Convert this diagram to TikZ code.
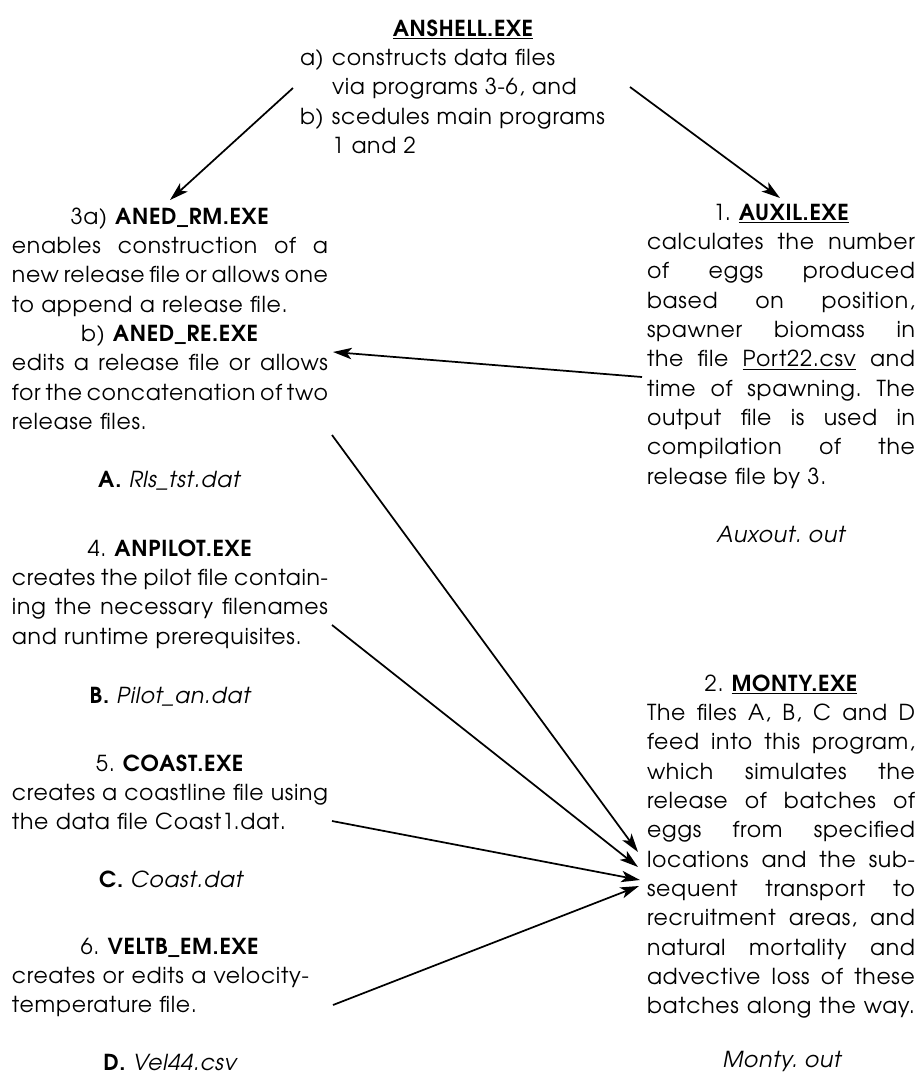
\documentclass[tikz,border=0pt]{standalone}
\usepackage{fontspec}
\setmainfont[LetterSpace=3]{TeX Gyre Adventor}
\usetikzlibrary{arrows.meta}
\frenchspacing
\newlength{\pxu}\setlength{\pxu}{0.75pt}
\newcommand{\fsz}{\fontsize{16.5pt}{22pt}\selectfont\frenchspacing\setlength{\parindent}{0pt}\setlength{\parskip}{0pt}}
\newcommand{\JL}[1]{\makebox[\linewidth][s]{\spaceskip=\fontdimen2\font plus 1fil minus 0.2em\relax\strut #1}\par}
\newcommand{\LL}[1]{\makebox[\linewidth][l]{\strut #1}\par}
\newcommand{\CL}[1]{\makebox[\linewidth][c]{\strut #1}\par}
\begin{document}
\begin{tikzpicture}[x=0.75pt,y=-0.75pt,
  blk/.style={anchor=north west,inner sep=0pt,outer sep=0pt,font=\fsz},
  lbl/.style={anchor=base,inner sep=0pt,font=\fsz},
  arr/.style={line width=1.3pt,-{Stealth[length=14pt,width=8.5pt,inset=3.5pt]}}]
\fill[white] (0,0) rectangle (921,1076);
\useasboundingbox (0,0) rectangle (921,1076);

% top block
\node[blk,text width=240pt] (anshell) at (300,15.5) {%
\CL{\hspace{6\pxu}\textbf{\underline{ANSHELL.EXE}}}
\LL{\makebox[32\pxu][l]{a)}constructs data files}
\LL{\hspace{32\pxu}via programs 3-6, and}
\LL{\makebox[32\pxu][l]{b)}scedules main programs}
\LL{\hspace{32\pxu}1 and 2}};

% left column
\node[blk,text width=237pt] (aned) at (12,203.5) {%
\CL{3a) \textbf{ANED\_RM.EXE}}
\JL{enables construction of a}
\JL{new release file or allows one}
\LL{to append a release file.}
\CL{b) \textbf{ANED\_RE.EXE}}
\JL{edits a release file or allows}
\JL{for the concatenation of two}
\LL{release files.}};
\node[lbl] (fileA) at (170,487) {\textbf{A.} \textit{Rls\_tst.dat}};

\node[blk,text width=237pt] (anpilot) at (12,535.5) {%
\CL{4. \textbf{ANPILOT.EXE}}
\JL{creates the pilot file contain-}
\JL{ing the necessary filenames}
\LL{and runtime prerequisites.}};
\node[lbl] (fileB) at (171,703) {\textbf{B.} \textit{Pilot\_an.dat}};

\node[blk,text width=237pt] (coast) at (12,750.5) {%
\CL{5. \textbf{COAST.EXE}}
\JL{creates a coastline file using}
\LL{the data file Coast1.dat.}};
\node[lbl] (fileC) at (172,887) {\textbf{C.} \textit{Coast.dat}};

\node[blk,text width=237pt] (veltb) at (12,933.5) {%
\CL{6. \textbf{VELTB\_EM.EXE}}
\LL{creates or edits a velocity-}
\LL{temperature file.}};
\node[lbl] (fileD) at (171,1070) {\textbf{D.} \textit{Vel44.csv}};

% right column
\node[blk,text width=201pt] (auxil) at (647,199.5) {%
\CL{1. \textbf{\underline{AUXIL.EXE}}}
\JL{calculates the number}
\JL{of eggs produced}
\JL{based on position,}
\JL{spawner biomass in}
\JL{the file \underline{Port22.csv} and}
\JL{time of spawning. The}
\JL{output file is used in}
\JL{compilation of the}
\LL{release file by 3.}};
\node[lbl] (auxout) at (782,542) {\textit{Auxout. out}};

\node[blk,text width=201pt] (monty) at (647,670.5) {%
\CL{2. \textbf{\underline{MONTY.EXE}}}
\JL{The files A, B, C and D}
\JL{feed into this program,}
\JL{which simulates the}
\JL{release of batches of}
\JL{eggs from specified}
\JL{locations and the sub-}
\JL{sequent transport to}
\JL{recruitment areas, and}
\JL{natural mortality and}
\JL{advective loss of these}
\JL{batches along the way.}};
\node[lbl] (montyout) at (783,1067) {\textit{Monty. out}};

% connector end points
\coordinate (anshL) at (293,88);
\coordinate (anshR) at (630,87);
\coordinate (anedT) at (170,200);
\coordinate (auxT) at (780,198);
\coordinate (auxL) at (642,377);
\coordinate (anedR) at (333,352);
\coordinate (anedB) at (332,435);
\coordinate (pilotR) at (332,625);
\coordinate (coastR) at (332,821);
\coordinate (veltbR) at (333,1005);
\coordinate (montyA) at (638,852);
\coordinate (montyB) at (638,867);
\coordinate (montyC) at (640,880);
\coordinate (montyD) at (639,886);

\draw[arr] (anshL) -- (anedT);
\draw[arr] (anshR) -- (auxT);
\draw[arr] (auxL) -- (anedR);
\draw[arr] (anedB) -- (montyA);
\draw[arr] (pilotR) -- (montyB);
\draw[arr] (coastR) -- (montyC);
\draw[arr] (veltbR) -- (montyD);
\end{tikzpicture}
\end{document}
